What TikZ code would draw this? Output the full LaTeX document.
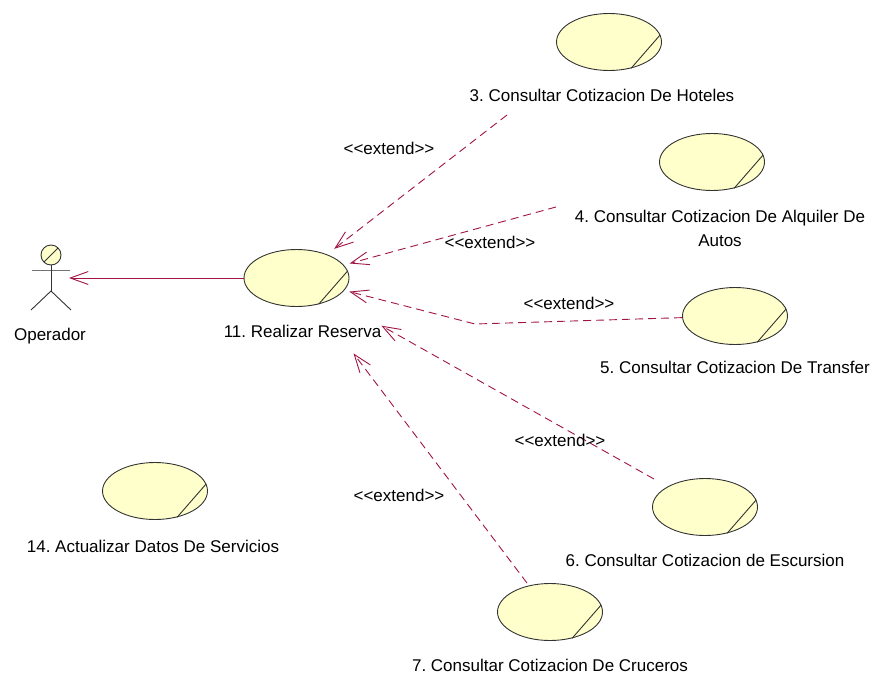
\documentclass[tikz,border=0pt]{standalone}
\usepackage{fontspec}
\setmainfont{Liberation Sans}
\usetikzlibrary{shapes.geometric,arrows.meta,positioning}
\definecolor{roseline}{RGB}{160,20,70}
\definecolor{rosefill}{RGB}{255,255,204}
\newcommand{\ucfont}{\fontsize{17}{24}\selectfont\frenchspacing}
\newcommand{\ucstereo}[1]{<\kern0pt<#1>\kern0pt>}
\tikzset{
  usecase/.style={ellipse, draw=black!80, fill=rosefill, line width=0.9pt,
    minimum width=105pt, minimum height=57pt, inner sep=0pt},
  uc-text/.style={inner sep=0pt, font=\ucfont},
  uc-label/.style={uc-text, text height=12pt, text depth=3.5pt},
  assoc/.style={draw=roseline, line width=0.9pt, -{Straight Barb[length=18pt,width=13pt]}},
  extend-dep/.style={assoc, dash pattern=on 8pt off 5pt},
  actor-line/.style={draw=black!80, line width=0.9pt}
}

\begin{document}
\begin{tikzpicture}[x=1pt, y=-1pt]
  \useasboundingbox (0,0) rectangle (880,677);
  % Actor
  \draw[actor-line, fill=rosefill] (51,255) circle (10pt);
  \draw[actor-line] (44,262) -- (58,248);
  \draw[actor-line, draw=black!55] (32,270) -- (70,270);
  \draw[actor-line] (51,265) -- (51,291);
  \draw[actor-line] (31,310) -- (51,291) -- (71,310);
  \coordinate (operador) at (69,278);
  \node[uc-label] (operador-lbl) at (50,336) {Operador};
  % Use cases
  \node[usecase] (reserva) at (296.5,278) {};
  \node[usecase] (hoteles) at (609,42) {};
  \node[usecase] (alquiler) at (712,162) {};
  \node[usecase] (transfer) at (735,316) {};
  \node[usecase] (escursion) at (705,507) {};
  \node[usecase] (cruceros) at (550,612) {};
  \node[usecase] (actualizar) at (155,491) {};
  \foreach \uc in {reserva,hoteles,alquiler,transfer,escursion,cruceros,actualizar}
    \draw[line width=0.9pt, black!80] (\uc.-50) -- (\uc.8);
  % Use case names
  \node[uc-label, below=18pt of reserva, xshift=6pt] (reserva-lbl) {11. Realizar Reserva};
  \node[uc-label, below=18pt of hoteles, xshift=-7pt] (hoteles-lbl) {3. Consultar Cotizacion De Hoteles};
  \node[uc-text, align=center, below=19pt of alquiler, xshift=8pt] (alquiler-lbl) {4. Consultar Cotizacion De Alquiler De\\Autos};
  \node[uc-label, below=16pt of transfer] (transfer-lbl) {5. Consultar Cotizacion De Transfer};
  \node[uc-label, below=18pt of escursion] (escursion-lbl) {6. Consultar Cotizacion de Escursion};
  \node[uc-label, below=18pt of cruceros] (cruceros-lbl) {7. Consultar Cotizacion De Cruceros};
  \node[uc-label, below=20pt of actualizar, xshift=-2pt] (actualizar-lbl) {14. Actualizar Datos De Servicios};
  % Association
  \draw[assoc] (reserva) -- (operador);
  % Extend dependencies
  \coordinate (hoteles-out) at (507,115);
  \coordinate (alquiler-out) at (556,207);
  \coordinate (transfer-bend) at (475,324);
  \coordinate (escursion-out) at (654,479);
  \coordinate (cruceros-out) at (527,583);
  \draw[extend-dep, shorten >=9pt] (hoteles-out) -- (reserva);
  \draw[extend-dep, shorten >=6pt] (alquiler-out) -- (reserva);
  \draw[extend-dep, shorten >=5pt] (transfer) -- (transfer-bend) -- (reserva);
  \draw[extend-dep, shorten >=55pt] (escursion-out) -- (reserva);
  \draw[extend-dep, shorten >=61pt] (cruceros-out) -- (reserva);
  \node[uc-label] (hoteles-ext) at (389,150) {\ucstereo{extend}};
  \node[uc-label] (alquiler-ext) at (490,244) {\ucstereo{extend}};
  \node[uc-label] (transfer-ext) at (569,305) {\ucstereo{extend}};
  \node[uc-label] (escursion-ext) at (560,442) {\ucstereo{extend}};
  \node[uc-label] (cruceros-ext) at (399,497) {\ucstereo{extend}};
\end{tikzpicture}
\end{document}
